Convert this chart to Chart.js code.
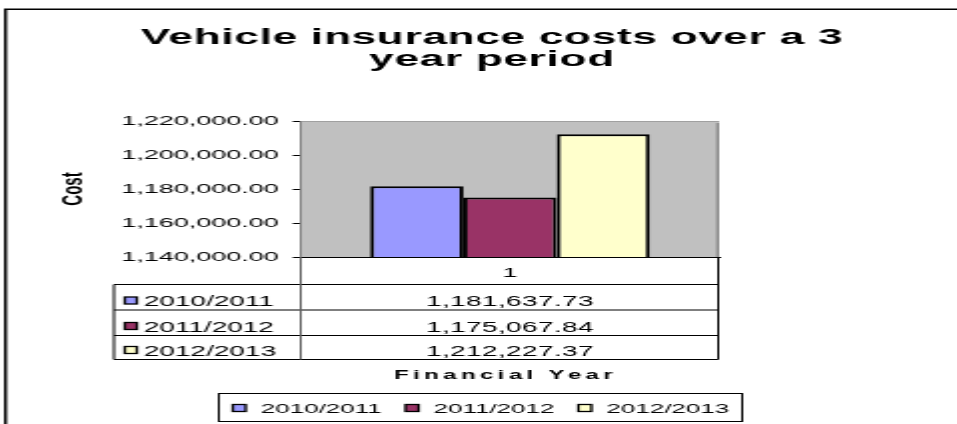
<!DOCTYPE html>
<html><head><meta charset="utf-8">
<script src="https://cdn.jsdelivr.net/npm/chart.js@4"></script>
<style>
html,body{margin:0;padding:0;background:#fff;overflow:hidden;width:957px;height:424px}
#wrap{position:absolute;left:0;top:0;width:479px;height:424px;transform:scaleX(1.99791);transform-origin:0 0}
canvas{display:block}
</style></head><body>
<div id="wrap"><canvas id="c" width="479" height="424"></canvas></div>
<script>
const TITLE_LINES = ['Vehicle insurance costs over a 3', 'year period'];
const CATEGORIES = ['1'];
const SERIES_NAMES = ['2010/2011', '2011/2012', '2012/2013'];
const SERIES_2010_2011 = [1181637.73];
const SERIES_2011_2012 = [1175067.84];
const SERIES_2012_2013 = [1212227.37];
const SERIES_COLORS = ['#9999FF', '#993366', '#FFFFCC'];
const Y_TICKS = [1140000, 1160000, 1180000, 1200000, 1220000];
const Y_TITLE = 'Cost';
const X_TITLE = 'Financial Year';

const FONT = '"Liberation Sans", Arial, sans-serif';
const fmt = v => v.toLocaleString('en-US', {minimumFractionDigits: 2, maximumFractionDigits: 2});
const seriesValues = [SERIES_2010_2011, SERIES_2011_2012, SERIES_2012_2013];

const deco = {
  id: 'deco',
  beforeDraw(chart) {
    const ctx = chart.ctx, a = chart.chartArea;
    ctx.save();
    ctx.fillStyle = '#fff';
    ctx.fillRect(0, 0, chart.width, chart.height);
    ctx.strokeStyle = '#000';
    ctx.lineWidth = 1.5;
    ctx.beginPath();
    ctx.moveTo(2.75, 430); ctx.lineTo(2.75, 9.25); ctx.lineTo(chart.width + 5, 9.25);
    ctx.stroke();
    ctx.fillStyle = '#C0C0C0';
    ctx.fillRect(a.left, a.top, a.right - a.left, a.bottom - a.top);
    ctx.fillStyle = '#8a8a8a';
    ctx.fillRect(a.right - 1.5, a.top + 2, 1.5, a.bottom - a.top - 2);
    ctx.strokeStyle = '#a0a0a0';
    ctx.lineWidth = 1;
    ctx.beginPath(); ctx.moveTo(a.left, a.top + 0.5); ctx.lineTo(a.right, a.top + 0.5); ctx.stroke();
    ctx.restore();
  },
  afterDraw(chart) {
    const ctx = chart.ctx, a = chart.chartArea;
    ctx.save();
    ctx.fillStyle = '#000';
    ctx.font = 'bold 22px ' + FONT;
    ctx.textAlign = 'center';
    ctx.textBaseline = 'alphabetic';
    ctx.letterSpacing = '0.4px';
    ctx.fillText(TITLE_LINES[0], 246.25, 44);
    ctx.fillText(TITLE_LINES[1], 246.25, 66);
    ctx.letterSpacing = '0px';

    const x0 = 57, xd = a.left, xr = a.right - 0.5;
    const rows = [284.5, 310, 335.5, 359.5];
    ctx.strokeStyle = '#000';
    ctx.lineWidth = 1;
    ctx.beginPath();
    rows.forEach(y => { ctx.moveTo(x0, y); ctx.lineTo(xr, y); });
    ctx.moveTo(x0, rows[0]); ctx.lineTo(x0, rows[3]);
    ctx.moveTo(xr, a.bottom); ctx.lineTo(xr, rows[3]);
    ctx.stroke();
    ctx.strokeStyle = '#606060';
    ctx.beginPath(); ctx.moveTo(xd, a.bottom); ctx.lineTo(xd, rows[3]); ctx.stroke();

    chart.data.datasets.forEach((ds, i) => {
      const base = rows[i + 1] - 4;
      ctx.fillStyle = ds.backgroundColor;
      ctx.fillRect(62.5, base - 9, 6, 7);
      ctx.strokeStyle = '#000';
      ctx.lineWidth = 1.3;
      ctx.strokeRect(62.5, base - 9, 6, 7);
      ctx.fillStyle = '#000';
      ctx.font = '14px ' + FONT;
      ctx.textAlign = 'left';
      ctx.fillText(ds.label, 72, base);
      ctx.font = '14px ' + FONT;
      ctx.letterSpacing = '0.2px';
      ctx.textAlign = 'center';
      ctx.fillText(fmt(ds.data[0]), (a.left + a.right) / 2, base);
      ctx.letterSpacing = '0px';
    });

    ctx.font = 'bold 12px ' + FONT;
    ctx.letterSpacing = '2.2px';
    ctx.textAlign = 'center';
    ctx.fillText(X_TITLE, 253, 379);
    ctx.letterSpacing = '0px';

    const lx0 = 109.5, lx1 = 371.5, ly0 = 393.5, ly1 = 421.5;
    ctx.strokeStyle = '#000';
    ctx.lineWidth = 1;
    ctx.strokeRect(lx0, ly0, lx1 - lx0, ly1 - ly0);
    ctx.font = '13px ' + FONT;
    ctx.textAlign = 'left';
    ctx.lineWidth = 1.3;
    let x = 116.5;
    chart.data.datasets.forEach(ds => {
      ctx.fillStyle = ds.backgroundColor;
      ctx.fillRect(x, 404.5, 6.5, 7);
      ctx.strokeRect(x, 404.5, 6.5, 7);
      ctx.fillStyle = '#000';
      ctx.fillText(ds.label, x + 14, 413);
      x += 14 + ctx.measureText(ds.label).width + 12;
    });
    ctx.restore();
  }
};

new Chart(document.getElementById('c'), {
  type: 'bar',
  data: {
    labels: CATEGORIES,
    datasets: SERIES_NAMES.map((n, i) => ({
      label: n,
      data: seriesValues[i],
      backgroundColor: SERIES_COLORS[i],
      borderColor: '#000',
      borderWidth: 2,
      categoryPercentage: 0.668,
      barPercentage: 1.0
    }))
  },
  options: {
    responsive: false,
    animation: false,
    devicePixelRatio: 1,
    layout: {padding: {top: 121, left: 0, right: 119, bottom: 0}},
    plugins: {legend: {display: false}, title: {display: false}, tooltip: {enabled: false}},
    scales: {
      x: {
        grid: {display: false},
        border: {display: true, color: '#000', width: 1},
        ticks: {color: '#000', font: {family: FONT, size: 13.5}, padding: 0},
        afterFit: s => { s.height = 167; }
      },
      y: {
        min: Y_TICKS[0],
        max: Y_TICKS[Y_TICKS.length - 1],
        afterBuildTicks: s => { s.ticks = Y_TICKS.map(v => ({value: v})); },
        grid: {display: true, drawOnChartArea: false, drawTicks: true, tickLength: 4, color: '#000', lineWidth: 1},
        border: {display: true, color: '#808080', width: 1},
        ticks: {color: '#000', font: {family: FONT, size: 13.5}, padding: 7, callback: v => fmt(v)},
        title: {display: true, text: Y_TITLE, color: '#000', font: {family: FONT, size: 15, weight: 'bold'}, padding: {top: 28, bottom: 0}},
        afterFit: s => { s.width = 150.5; }
      }
    }
  },
  plugins: [deco]
});
</script>
</body></html>
